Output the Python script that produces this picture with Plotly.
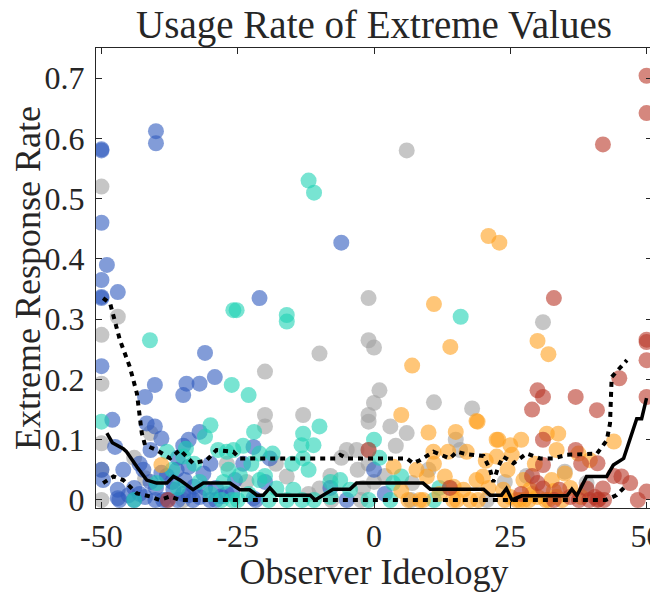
import plotly.graph_objects as go

# scatter groups: observer ideology vs extreme response rate
blue_x = [-50, -50, -40, -40, -50, -49, -50, -50, -50, -47, -50, -42, -40.2, -31, -29.2, -34.4, -32, -35,
          -21, -6, -48, -41.7, -40.2, -39, -34, -32, -47.5, -46, -42.3, -41, -36.2, -34.7, -49.7, -47,
          -47, -38.7, -36.8, -33, -31.3, -30, -22.1, -19.1, -25.5, -5, -22.1, 0, -46.7, -40.1, -38, -36,
          -33.2, -30.1, -21.7, -50, -44, -43, -38, -36, -35, -29, -27, -24, -20, -8, 2, -45, -42, -41,
          -34, -32, -28, -44, -43, -40, -39, -37, -35, -34, -31, -29, -26]
blue_y = [0.582, 0.580, 0.612, 0.592, 0.46, 0.39, 0.365, 0.337, 0.335, 0.345, 0.222, 0.171, 0.191, 0.244,
          0.204, 0.193, 0.193, 0.174, 0.335, 0.427, 0.133, 0.127, 0.122, 0.102, 0.1, 0.113, 0.088, 0.05,
          0.05, 0.083, 0.05, 0.033, 0.033, 0.017, 0.003, 0, 0.017, 0.022, 0.044, 0.06, 0.088, 0.069,
          0.033, 0, 0.003, 0.05, 0, 0, 0, 0, 0, 0, 0, 0.05, 0.02, 0.06, 0.04, 0.07, 0.09, 0.02, 0.01,
          0.06, 0.03, 0.02, 0.01, 0.008, 0.005, 0.03, 0.008, 0.005, 0.006, 0, 0.01, 0.02, 0.045, 0.03,
          0.01, 0.055, 0.02, 0, 0.01]

teal_x = [-41.1, -25.8, -25.2, -26.1, -23, -50, -12, -11, -16, -16, 15.9, -44, -30, -31, -35, -28.6,
          -27.6, -39.9, -22, -25.8, -27, -21, -18.6, -13, -10, -13.3, -11.1, -12, -13, -21, -17.9,
          -14.8, -6.2, -4.4, -26.7, -24.6, 0, 5, 3.5, -1, 3, 11, -19.3, -13.2, -11, -28, -25, -23,
          -33, -37, -38, -36, -32, -30, -16, -8, -24, -20, -15, 1, -26, -34.5, -8, 12, -22.5]
teal_y = [0.265, 0.315, 0.315, 0.191, 0.174, 0.13, 0.53, 0.51, 0.307, 0.296, 0.304, 0, 0.124, 0.105,
          0.072, 0.083, 0.03, 0.028, 0.113, 0.083, 0.08, 0.077, 0.077, 0.11, 0.122, 0.091, 0.091, 0.05,
          0.069, 0.033, 0.019, 0.017, 0.033, 0.017, 0.05, 0.041, 0.1, 0.039, 0.028, 0, 0, 0, 0, 0, 0,
          0, 0, 0.01, 0.06, 0.05, 0.08, 0.02, 0.03, 0.01, 0, 0.005, 0.09, 0.04, 0.06, 0.07, 0, 0.085,
          0.03, 0.02, 0.06]

gray_x = [-50, -47, -50, -50, -50, -50, -50, -41, -42, 6, -1, -1, 0, -10, -20, 1, 0, -1, -1, -20, -20,
          -13, 3, 6, 11, 31, 18, -16, -10, -5, -23.4, -3.2, 7, 15, 15.8, 35, 39, 39, -1, -1, 0, -7.8,
          -2.4, 6.8, 20.7, -3, 2, -12, -18, -44, 10, -8, 24, 14, -2, 4, -35, -27, -6, 28]
gray_y = [0.52, 0.304, 0.274, 0.193, 0, 0.094, 0.05, 0.111, 0.036, 0.58, 0.335, 0.265, 0.253, 0.243,
          0.213, 0.182, 0.161, 0.141, 0.13, 0.141, 0.122, 0.141, 0.122, 0.111, 0.162, 0.295, 0.152,
          0.039, 0.019, 0.083, 0.03, 0.083, 0.028, 0.1, 0.083, 0.047, 0.028, 0.017, 0.083, 0.06, 0.03,
          0, 0, 0, 0, 0.05, 0.04, 0.01, 0.06, 0.07, 0.05, 0.04, 0.03, 0.02, 0.02, 0.09, 0, 0.06, 0.07,
          0.04]

orange_x = [21, 23, 11, 7, 5, 10, 14, 30, 32, 19, 18.8, 15, 22.5, 22.8, 25, 27, 31.7, 33.8, 33.5, 25.3,
            37.5, 39.6, 35, 27.4, 23.7, 28.6, 32.6, 26.7, 10.9, 13.6, 17, 3.6, 7.8, 9.7, 13, 18.8, 20,
            14.6, 16.4, 6.3, 9, 15.2, 19.1, 22.5, 8.4, 14.5, 17.6, 26.1, 28.4, 31.5, 34.5, -39, 12, 21,
            24.5, 29.5, 36, 11, 5, 30, 20.5, 33, 38, 44, 25, 27.5, 29, 32, 33.5, 24]
orange_y = [0.438, 0.427, 0.325, 0.223, 0.141, 0.112, 0.254, 0.264, 0.242, 0.13, 0.131, 0.113, 0.1, 0.1,
            0.091, 0.1, 0.11, 0.11, 0.083, 0.075, 0.077, 0.066, 0.044, 0.033, 0.017, 0.017, 0.033, 0,
            0.08, 0.08, 0.08, 0.055, 0.05, 0.039, 0.039, 0.033, 0.039, 0.022, 0.017, 0, 0, 0, 0, 0.072,
            0, 0, 0, 0, 0, 0, 0, 0.058, 0.01, 0.02, 0.05, 0.06, 0.02, 0.06, 0.015, 0.005, 0.065, 0.015,
            0.005, 0.097, 0.005, 0, 0.01, 0, 0.005, 0]

red_x = [50, 50, 42, 33, 50, 50, 50, 45, 50, 30, 31, 29, 37, 40.9, 31, 31, 37, 41, 45.4, 47, 50, 42, 41,
         41.2, 30, 31, 34, 39, 38, -1, 13.9, 37.6, 42.2, 48.4, -37.8, 27, 33, 44, 29, 39.5, 40.5, 36]
red_y = [0.704, 0.642, 0.59, 0.335, 0.266, 0.262, 0.232, 0.202, 0.171, 0.182, 0.171, 0.15, 0.171, 0.149,
         0.1, 0.058, 0.083, 0.061, 0.039, 0.028, 0.014, 0.019, 0, 0.001, 0.028, 0.019, 0.017, 0.019,
         0.06, 0.083, 0.02, 0, 0, 0, 0, 0.01, 0, 0.04, 0.04, 0, 0.005, 0.005]

# running median and quantile bands
med_x = [-49, -48, -46, -45.4, -43.5, -41.7, -39.9, -38, -36.8, -35.6, -33.2, -31.3, -26.4, -24.6, -22.8,
         -21.5, -20.3, -19.1, -17.9, -11.7, -10.8, -7.5, -4.4, -3.2, 9.0, 10.3, 20.1, 21.3, 23.4, 24.3,
         25.3, 27.1, 35.4, 36.3, 37.2, 39.0, 42.7, 43.9, 45.8, 48.2, 49.1, 50]
med_y = [0.111, 0.095, 0.085, 0.080, 0.055, 0.033, 0.028, 0.028, 0.039, 0.033, 0.017, 0.028, 0.028, 0.017,
         0.017, 0.008, 0.008, 0.02, 0.008, 0.008, 0, 0.018, 0.018, 0.028, 0.028, 0.018, 0.018, 0.008,
         0.008, 0.019, 0, 0.007, 0.007, 0.018, 0.007, 0.039, 0.039, 0.058, 0.069, 0.135, 0.135, 0.169]

hi_x = [-49.7, -48.4, -46.6, -44.8, -43.5, -42.6, -42.0, -39.9, -37.4, -35.6, -33.2, -30.7, -28.9, -25.8,
        -24.6, -7, -6.2, -5, 6.0, 7.2, 8.4, 10.9, 13.9, 15.2, 17.0, 20.1, 21.3, 21.9, 22.8, 23.7, 25.6,
        28.0, 30.5, 32.9, 35.4, 40.9, 42.7, 43.3, 43.6, 44.5, 46.4]
hi_y = [0.335, 0.326, 0.265, 0.221, 0.177, 0.111, 0.091, 0.083, 0.069, 0.083, 0.061, 0.066, 0.083, 0.080,
        0.069, 0.069, 0.075, 0.069, 0.069, 0.061, 0.066, 0.080, 0.069, 0.080, 0.076, 0.073, 0.05, 0.03,
        0.055, 0.072, 0.061, 0.077, 0.069, 0.069, 0.075, 0.077, 0.099, 0.127, 0.204, 0.213, 0.232]

lo_x = [-49.7, -47.8, -46.0, -43.5, -41.1, -39.3, -37.4, -35.6, 40.9, 42.5, 44.5, 46.4]
lo_y = [0.028, 0.039, 0.033, 0.011, 0.006, 0, 0.006, 0, 0, 0, 0.008, 0.025]

x_ticks = [-50, -25, 0, 25, 50]
x_tick_text = ["-50", "-25", "0", "25", "50"]
y_ticks = [0, 0.1, 0.2, 0.3, 0.4, 0.5, 0.6, 0.7]
y_tick_text = ["0", "0.1", "0.2", "0.3", "0.4", "0.5", "0.6", "0.7"]

FONT = "Liberation Serif"
INK = "#262626"
groups = [
    (gray_x, gray_y, "rgb(160,160,160)"),
    (blue_x, blue_y, "rgb(46,90,190)"),
    (teal_x, teal_y, "rgb(30,210,180)"),
    (orange_x, orange_y, "rgb(255,160,30)"),
    (red_x, red_y, "rgb(185,55,40)"),
]

fig = go.Figure()
for gx, gy, col in groups:
    fig.add_trace(go.Scatter(
        x=gx, y=gy, mode="markers",
        marker=dict(size=16, color=col, opacity=0.6, line=dict(width=0)),
        showlegend=False,
    ))

fig.add_trace(go.Scatter(x=hi_x, y=hi_y, mode="lines", line=dict(color="black", width=4, dash="5px,5px"),
                         showlegend=False))
fig.add_trace(go.Scatter(x=lo_x, y=lo_y, mode="lines", line=dict(color="black", width=4, dash="5px,5px"),
                         showlegend=False))
fig.add_trace(go.Scatter(x=med_x, y=med_y, mode="lines", line=dict(color="black", width=3.5),
                         showlegend=False))

axis_common = dict(
    showline=True, linecolor=INK, linewidth=1, mirror="ticks",
    ticks="inside", ticklen=6, tickcolor=INK, tickwidth=1,
    showgrid=False, zeroline=False, automargin=False, ticklabeloverflow="allow",
    tickfont=dict(family=FONT, size=32, color=INK),
)

# page body adds an 8px offset, so the figure is 8px smaller than the window
fig.update_layout(
    width=650, height=584,
    margin=dict(l=88, r=6, t=40, b=84),
    paper_bgcolor="white", plot_bgcolor="white",
    title=dict(text="Usage Rate of Extreme Values", x=(374 - 8) / 650, xanchor="center", y=0.972,
               yanchor="middle", yref="container", font=dict(family=FONT, size=39, color=INK)),
    xaxis=dict(range=[-51, 51], tickvals=x_ticks, ticktext=x_tick_text, ticklabelstandoff=0,
               title=dict(text="Observer Ideology", font=dict(family=FONT, size=36, color=INK),
                          standoff=0),
               **axis_common),
    yaxis=dict(range=[-0.0133, 0.75], tickvals=y_ticks, ticktext=y_tick_text, ticklabelstandoff=4,
               title=dict(text="Extreme Response Rate", font=dict(family=FONT, size=36, color=INK),
                          standoff=4),
               **axis_common),
)

fig.write_html("out.html")
